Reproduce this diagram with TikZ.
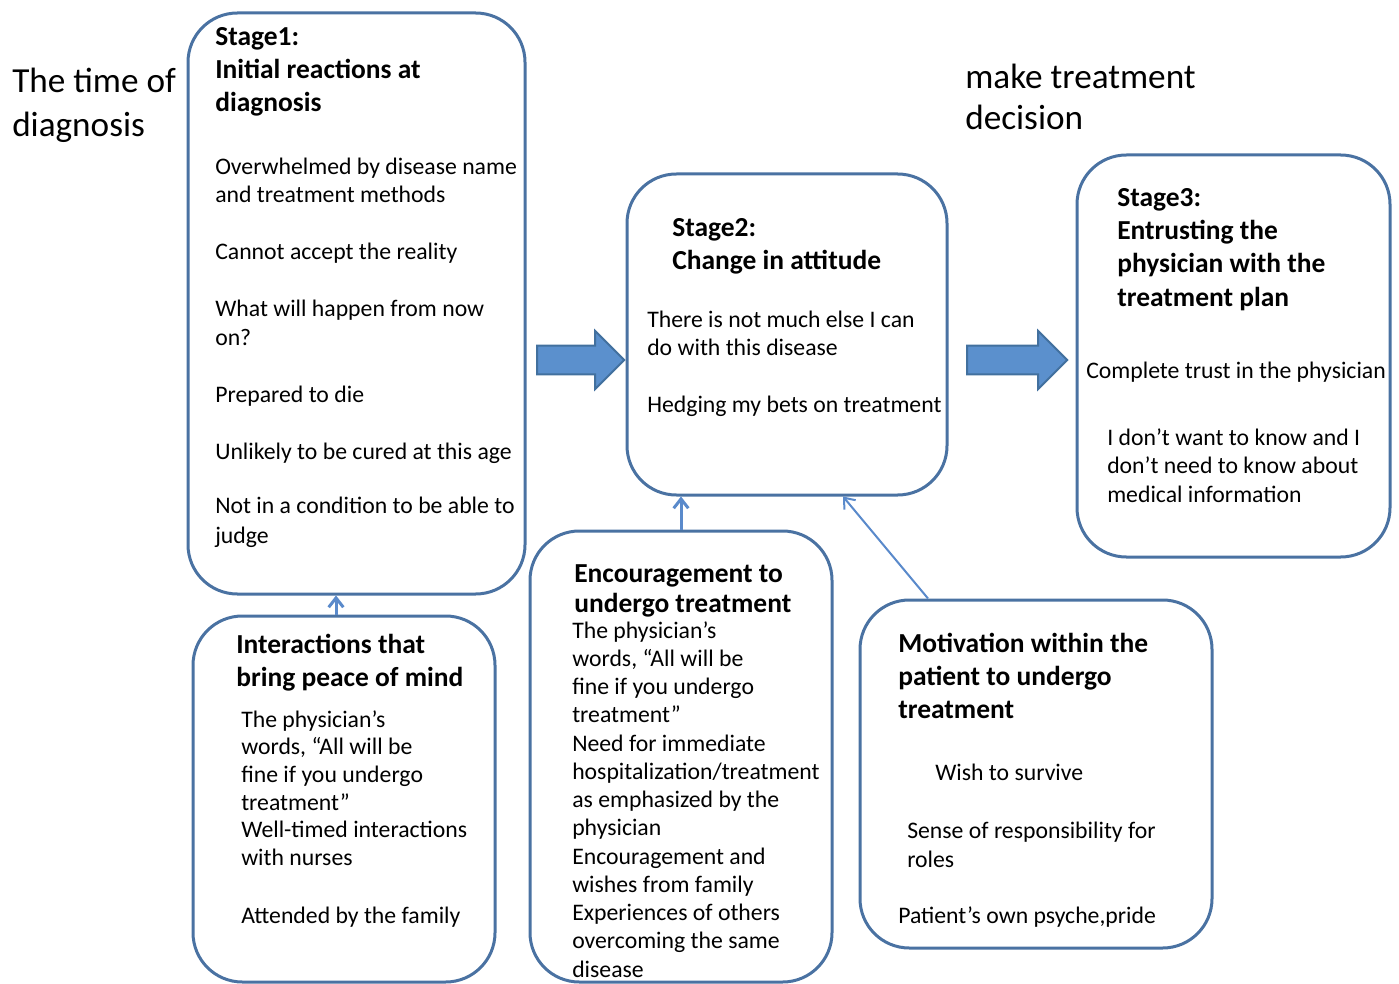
\documentclass[tikz,border=0pt]{standalone}
\usepackage{fontspec}
\setmainfont{Carlito}
\usepackage{tikz}
\usetikzlibrary{arrows.meta,shapes.arrows}

\definecolor{boxblue}{HTML}{4A72A2}
\definecolor{linkblue}{HTML}{5A8ACB}
\definecolor{arrowfill}{HTML}{5B90CD}
\definecolor{arrowedge}{HTML}{42709E}

\tikzset{
  stagebox/.style={draw=boxblue, line width=2.25pt, rounded corners=37pt},
  bodytext/.style={anchor=north west, inner sep=0pt, align=left,
    font=\fontsize{17.8}{21.4}\selectfont},
  headtext/.style={anchor=north west, inner sep=0pt, align=left,
    font=\bfseries\fontsize{20.6}{24.75}\selectfont},
  sidetext/.style={anchor=north west, inner sep=0pt, align=left,
    font=\fontsize{26.4}{33}\selectfont},
  bigarrow/.style={single arrow, draw=arrowedge, fill=arrowfill,
    line width=1.5pt, inner xsep=0pt, inner ysep=10pt,
    single arrow head extend=11pt, minimum width=42pt},
  link/.style={draw=linkblue, line width=2.25pt,
    -{Straight Barb[length=7pt, width=11pt]}}
}

\begin{document}
\begin{tikzpicture}[x=0.75pt, y=-0.75pt]
    \useasboundingbox (0,0) rectangle (1399,984);

    \node [stagebox, minimum width=252.75pt, minimum height=435.75pt] (S1) at (356.5, 303.5) {};
    \node [stagebox, minimum width=240pt, minimum height=240.75pt] (S2) at (787, 334.5) {};
    \node [stagebox, minimum width=234.75pt, minimum height=301.5pt] (S3) at (1233.5, 356) {};
    \node [stagebox, minimum width=226.5pt, minimum height=274.5pt] (peace) at (344, 799) {};
    \node [stagebox, minimum width=226.5pt, minimum height=338.25pt] (encourage) at (681, 756.5) {};
    \node [stagebox, minimum width=264pt, minimum height=261pt] (motive) at (1036, 774) {};

    \node [sidetext] (timediag) at (12, 68) {The time of\\diagnosis};
    \node [sidetext, font=\fontsize{26.4}{30.5}\selectfont] (decision) at (965, 64) {make treatment\\decision};

    \node [headtext] (S1head) at (215, 27) {Stage1:\\Initial reactions at\\diagnosis};
    \node [bodytext] (S1body) at (215, 157.5) {%
      Overwhelmed by disease name\\and treatment methods\\[21.4pt]
      Cannot accept the reality\\[21.4pt]
      What will happen from now\\on?\\[21.4pt]
      Prepared to die\\[21.4pt]
      Unlikely to be cured at this age\\[19pt]
      Not in a condition to be able to\\[1pt]judge};

    \node [headtext] (S2head) at (672, 218) {Stage2:\\Change in attitude};
    \node [bodytext] (S2body) at (647, 310.5) {%
      There is not much else I can\\do with this disease\\[21.4pt]
      Hedging my bets on treatment};

    \node [headtext, font=\bfseries\fontsize{20.6}{25}\selectfont] (S3head) at (1117, 188) {%
      Stage3:\\Entrusting the\\physician with the\\treatment plan};
    \node [bodytext] (trust) at (1086, 362) {Complete trust in the physician};
    \node [bodytext] (noinfo) at (1107, 428) {%
      I don’t want to know and I\\don’t need to know about\\medical information};

    \node [headtext] (peacehead) at (236, 634) {Interactions that\\bring peace of mind};
    \node [bodytext, font=\fontsize{17.8}{20.8}\selectfont] (peacebody) at (241, 710) {%
      The physician’s\\words, “All will be\\fine if you undergo\\treatment”\\
      Well-timed interactions\\with nurses\\[22.5pt]
      Attended by the family};

    \node [headtext, font=\bfseries\fontsize{20.6}{22.5}\selectfont] (enchead) at (574, 564) {%
      Encouragement to\\undergo treatment};
    \node [bodytext, font=\fontsize{17.8}{21.2}\selectfont] (encbody) at (572, 621) {%
      The physician’s\\words, “All will be\\fine if you undergo\\treatment”\\
      Need for immediate\\hospitalization/treatment\\as emphasized by the\\physician\\
      Encouragement and\\wishes from family\\
      Experiences of others\\overcoming the same\\disease};

    \node [headtext] (motivehead) at (898, 633) {Motivation within the\\patient to undergo\\treatment};
    \node [bodytext] (survive) at (935, 764) {Wish to survive};
    \node [bodytext] (roles) at (907, 822) {Sense of responsibility for\\roles};
    \node [bodytext] (pride) at (898, 906.5) {Patient’s own psyche,pride};

    \node [bigarrow, minimum height=65.25pt] (step12) at (573.5, 360) {};
    \node [bigarrow, minimum height=75pt] (step23) at (1010, 360) {};

    \draw [link] ([xshift=-6pt]peace.north) -- ([xshift=-6pt]peace.north |- S1.south);
    \draw [link] (encourage.north) -- (encourage.north |- S2.south);
    \draw [link, line width=1.5pt] ([xshift=-81pt]motive.north) -- ([xshift=42pt]S2.south);
\end{tikzpicture}
\end{document}
